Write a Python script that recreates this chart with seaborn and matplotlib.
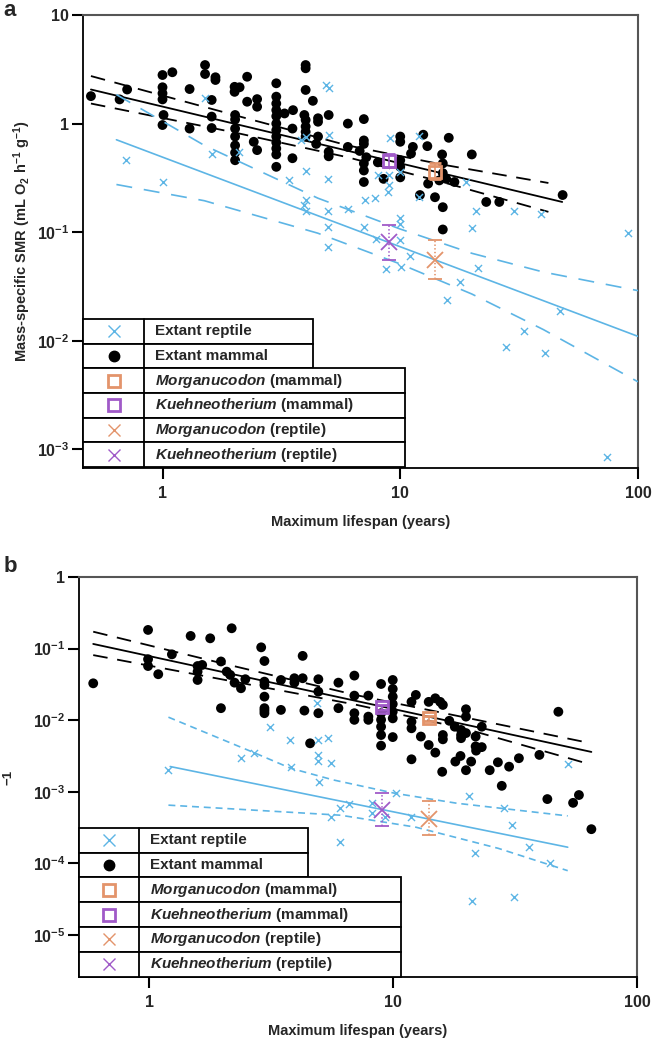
import numpy as np
import pandas as pd
import matplotlib
matplotlib.use("Agg")
import matplotlib.pyplot as plt
import seaborn as sns
from matplotlib.patches import Rectangle
from matplotlib.ticker import FixedLocator, FuncFormatter, NullLocator

sns.set_style("ticks")
plt.rcParams["font.family"] = ["Liberation Sans", "DejaVu Sans"]
plt.rcParams["font.weight"] = "bold"
plt.rcParams["mathtext.fontset"] = "custom"
plt.rcParams["mathtext.rm"] = "Liberation Sans:bold"
plt.rcParams["mathtext.bf"] = "Liberation Sans:bold"
plt.rcParams["mathtext.it"] = "Liberation Sans:italic:bold"
plt.rcParams["mathtext.default"] = "rm"
plt.rcParams["lines.scale_dashes"] = False

BLUE = "#5db5e5"
ORANGE = "#e3946b"
PURPLE = "#a05ac8"

# ---- panel a : mass-specific SMR vs maximum lifespan ----
a_mammals = [
    (0.50, 1.79), (0.66, 1.67), (0.71, 2.06), (1.0, 2.80), (1.0, 2.16), (1.0, 1.90), (1.0, 1.67),
    (1.10, 2.97), (1.01, 1.20), (1.0, 0.97), (1.30, 0.90), (1.30, 2.08), (1.51, 3.46), (1.51, 2.86),
    (1.67, 2.67), (1.67, 2.52), (1.61, 1.65), (1.61, 1.16), (1.61, 0.91), (2.01, 2.18), (2.11, 2.16),
    (2.01, 1.96), (2.27, 2.70), (2.27, 1.59), (2.02, 1.20), (2.02, 1.09), (2.02, 0.90), (2.02, 0.76),
    (2.02, 0.63), (2.02, 0.54), (2.02, 0.46), (2.50, 1.68), (2.50, 1.43), (2.42, 0.68), (2.50, 0.57),
    (3.01, 2.35), (3.01, 1.77), (3.01, 1.53), (3.01, 1.33), (3.01, 1.17), (3.01, 1.0), (3.01, 0.87),
    (3.01, 0.76), (3.01, 0.67), (3.01, 0.59), (3.01, 0.52), (3.01, 0.40), (3.26, 1.24), (3.54, 1.33),
    (3.52, 0.90), (3.52, 0.48), (4.0, 3.46), (4.0, 3.23), (4.0, 2.04), (4.0, 1.08), (4.0, 0.94),
    (4.0, 0.84), (4.0, 0.76), (3.95, 1.20), (4.29, 1.62), (4.51, 1.12), (4.51, 0.76), (4.43, 0.65),
    (4.51, 1.04), (5.0, 1.20), (5.0, 0.55), (5.0, 0.50), (6.02, 1.0), (7.03, 1.10), (7.03, 0.70),
    (7.03, 0.65), (6.02, 0.61), (6.75, 0.56), (7.20, 0.49), (7.03, 0.43), (7.03, 0.37), (7.03, 0.29),
    (8.05, 0.44), (8.51, 0.31), (10.0, 0.76), (10.0, 0.68), (10.0, 0.46), (10.0, 0.40), (10.0, 0.32),
    (11.3, 0.61), (11.1, 0.53), (12.5, 0.79), (13.0, 0.62), (16.0, 0.74), (15.0, 0.52), (15.1, 0.43),
    (15.1, 0.35), (14.6, 0.30), (15.6, 0.31), (16.9, 0.29), (13.1, 0.28), (12.1, 0.22), (14.0, 0.21),
    (15.1, 0.17), (20.0, 0.52), (23.0, 0.19), (26.1, 0.19), (15.1, 0.106), (48.2, 0.22),
]
a_reptiles = [
    (0.70, 0.46), (1.0, 0.29), (1.51, 1.71), (1.61, 0.52), (2.10, 0.55), (3.40, 0.30), (4.0, 0.76),
    (3.84, 0.70), (4.0, 0.37), (3.93, 0.177), (4.0, 0.20), (4.0, 0.157), (4.96, 0.31), (4.96, 0.157),
    (4.96, 0.112), (4.96, 0.073), (4.85, 2.26), (5.01, 2.11), (5.01, 0.78), (6.02, 0.162), (7.08, 0.197),
    (7.80, 0.207), (7.03, 0.112), (9.02, 0.73), (8.05, 0.335), (8.96, 0.335), (8.96, 0.271), (8.87, 0.236),
    (10.0, 0.36), (12.0, 0.77), (12.0, 0.21), (9.93, 0.134), (9.93, 0.12), (10.0, 0.084), (7.87, 0.0875),
    (11.0, 0.060), (18.9, 0.29), (20.9, 0.156), (20.1, 0.110), (30.0, 0.157), (39.1, 0.147), (90.4, 0.099),
    (8.74, 0.046), (10.05, 0.048), (17.9, 0.035), (21.3, 0.047), (15.8, 0.0236), (46.9, 0.0188),
    (33.2, 0.0123), (27.8, 0.0088), (40.6, 0.0077), (74.3, 0.00085),
]
# fossils: Morganucodon, Kuehneotherium
fossil_life = [14.0, 9.0]
fossil_colors = [ORANGE, PURPLE]
a_fossil_mam = [0.36, 0.454]
a_fossil_mam_lo = [0.306, 0.40]
a_fossil_mam_hi = [0.435, 0.53]
a_fossil_rep = [0.056, 0.0815]
a_fossil_rep_lo = [0.037, 0.056]
a_fossil_rep_hi = [0.084, 0.116]

a_mam_fit_x = [0.50, 48.0]
a_mam_fit_y = [2.06, 0.19]
a_mam_ci_x = [0.5, 2, 6, 15, 42]
a_mam_ci_hi = [2.74, 1.2, 0.63, 0.42, 0.284]
a_mam_ci_lo = [1.53, 0.83, 0.49, 0.29, 0.154]
a_rep_fit_x = [0.64, 100]
a_rep_fit_y = [0.71, 0.011]
a_rep_ci_x = [0.64, 1.5, 4.5, 10, 20, 40, 100]
a_rep_ci_hi = [1.85, 0.63, 0.206, 0.107, 0.064, 0.043, 0.029]
a_rep_ci_lo = [0.275, 0.195, 0.098, 0.051, 0.027, 0.0127, 0.0042]

# ---- panel b ----
b_mammals = [
    (0.59, 0.0327), (0.99, 0.182), (0.99, 0.071), (0.99, 0.057), (1.09, 0.0438), (1.24, 0.083),
    (1.48, 0.150), (1.78, 0.139), (1.58, 0.057), (1.58, 0.0476), (1.58, 0.0364), (1.65, 0.059),
    (2.18, 0.192), (1.97, 0.066), (2.08, 0.0476), (2.15, 0.0428), (2.24, 0.0334), (2.38, 0.0279),
    (2.48, 0.0373), (1.97, 0.0147), (2.88, 0.104), (2.97, 0.067), (2.97, 0.0345), (2.97, 0.0310),
    (2.97, 0.0213), (2.97, 0.0147), (2.97, 0.0136), (2.97, 0.0125), (3.47, 0.0364), (3.47, 0.0139),
    (3.94, 0.0385), (3.94, 0.0334), (4.26, 0.079), (4.26, 0.0385), (4.33, 0.0136), (4.94, 0.0373),
    (4.94, 0.025), (4.94, 0.0125), (4.57, 0.00475), (5.97, 0.0334), (5.97, 0.0147), (6.94, 0.0419),
    (6.94, 0.022), (6.94, 0.0125), (6.94, 0.0101), (7.92, 0.022), (7.92, 0.0112), (7.92, 0.0101),
    (8.93, 0.032), (8.93, 0.0125), (8.93, 0.0101), (8.93, 0.0081), (8.93, 0.0062), (8.93, 0.0044),
    (9.97, 0.0364), (9.97, 0.0273), (9.97, 0.0213), (9.97, 0.0168), (9.97, 0.0131), (9.97, 0.0106),
    (9.97, 0.0058), (11.9, 0.0095), (11.9, 0.0077), (12.4, 0.0225), (11.9, 0.018), (13.0, 0.0059),
    (14.0, 0.018), (14.9, 0.0202), (15.6, 0.018), (16.0, 0.0163), (14.0, 0.0045), (17.0, 0.0098),
    (17.9, 0.0081), (16.0, 0.0062), (16.0, 0.0054), (19.0, 0.0073), (19.0, 0.0062), (19.0, 0.0056),
    (19.9, 0.0142), (19.9, 0.0112), (19.9, 0.0066), (21.8, 0.0059), (21.8, 0.0043), (23.1, 0.0081),
    (23.1, 0.0042), (47.6, 0.0131), (11.9, 0.00284), (14.9, 0.00352), (18.0, 0.00264), (18.9, 0.00316),
    (20.9, 0.00264), (21.9, 0.00375), (15.9, 0.0019), (19.9, 0.0020), (24.9, 0.0020), (26.9, 0.00258),
    (29.9, 0.00224), (32.8, 0.00294), (39.8, 0.00327), (27.9, 0.00121), (42.9, 0.00079), (54.7, 0.00070),
    (57.8, 0.00090), (65.0, 0.0003),
]
b_reptiles = [
    (3.13, 0.0081), (3.78, 0.0053), (4.94, 0.0053), (5.43, 0.0056), (4.87, 0.0172), (1.20, 0.0020),
    (2.37, 0.0030), (2.68, 0.00345), (3.82, 0.0022), (4.93, 0.00327), (4.93, 0.00272), (5.59, 0.0025),
    (4.99, 0.00136), (5.55, 0.00045), (6.07, 0.00059), (6.62, 0.00067), (8.21, 0.00069), (8.21, 0.0005),
    (9.24, 0.00044), (10.3, 0.00097), (11.9, 0.00045), (6.07, 0.0002), (20.5, 0.00087), (28.5, 0.0006),
    (30.8, 0.00034), (36.1, 0.000168), (21.7, 0.000138), (43.9, 0.0001), (51.9, 0.00242),
    (21.0, 0.0000298), (31.2, 0.0000343),
]
b_fossil_mam = [0.0106, 0.0151]
b_fossil_mam_lo = [0.0097, 0.0139]
b_fossil_mam_hi = [0.0116, 0.0164]
b_fossil_rep = [0.00042, 0.00056]
b_fossil_rep_lo = [0.00025, 0.00033]
b_fossil_rep_hi = [0.00074, 0.00097]

b_mam_fit_x = [0.59, 65]
b_mam_fit_y = [0.116, 0.0036]
b_mam_ci_x = [0.59, 2, 7, 20, 62]
b_mam_ci_hi = [0.172, 0.062, 0.0225, 0.0108, 0.0049]
b_mam_ci_lo = [0.081, 0.037, 0.0165, 0.0075, 0.0025]
b_rep_fit_x = [1.22, 52]
b_rep_fit_y = [0.00225, 0.000168]
b_rep_ci_hi_x = [1.2, 2.7, 3.8, 5.7, 10.2, 18.3, 52]
b_rep_ci_hi = [0.011, 0.0035, 0.00213, 0.00146, 0.00095, 0.00069, 0.00046]
b_rep_ci_lo_x = [1.2, 6.1, 12.4, 27, 52]
b_rep_ci_lo = [0.00065, 0.00047, 0.00032, 0.000162, 0.000079]

legend_labels = ["Extant reptile", "Extant mammal",
                 r"$\mathit{Morganucodon}$ (mammal)", r"$\mathit{Kuehneotherium}$ (mammal)",
                 r"$\mathit{Morganucodon}$ (reptile)", r"$\mathit{Kuehneotherium}$ (reptile)"]


def log_fmt(v, pos):
    e = int(round(np.log10(v)))
    if e >= 0:
        return "%d" % (10 ** e)
    return r"$10^{%d}$" % e


def line(ax, x, y, color, dashes=None, lw=1.2):
    sns.lineplot(x=x, y=y, ax=ax, color=color, lw=lw, estimator=None, sort=False, zorder=4)
    if dashes is not None:
        ax.lines[-1].set_dashes(dashes)


def fossils(ax, y, lo, hi, marker):
    for xv, yv, l, h, c in zip(fossil_life, y, lo, hi, fossil_colors):
        if marker == "s":
            ax.errorbar([xv], [yv], yerr=[[yv - l], [h - yv]], fmt="s", mfc="none", mec=c, ms=9,
                        mew=2, ecolor=c, elinewidth=1.2, capsize=4, capthick=1.2, zorder=6)
        else:
            eb = ax.errorbar([xv], [yv], yerr=[[yv - l], [h - yv]], fmt="x", color=c, ms=11,
                             mew=1.3, ecolor=c, elinewidth=1.2, capsize=5, capthick=1.2, zorder=6)
            eb[2][0].set_linestyle(":")


def key_table(ax, xd, xr1, xr2, top, rh):
    for i, lab in enumerate(legend_labels):
        y0 = top - (i + 1) * rh
        w = xr1 if i < 2 else xr2
        ax.add_patch(Rectangle((0, y0), w, rh, transform=ax.transAxes, fc="white", ec="black",
                               lw=1.3, zorder=10, clip_on=False))
        ax.plot([xd, xd], [y0, y0 + rh], transform=ax.transAxes, color="black", lw=1.3,
                zorder=11, clip_on=False)
        xm, ym = xd / 2, y0 + rh / 2
        if i == 0:
            ax.plot(xm, ym, "x", color=BLUE, ms=8, mew=1, transform=ax.transAxes, zorder=12, clip_on=False)
        elif i == 1:
            ax.plot(xm, ym, "o", color="black", ms=7.5, transform=ax.transAxes, zorder=12, clip_on=False)
        elif i in (2, 3):
            ax.plot(xm, ym, "s", mfc="none", mec=fossil_colors[i - 2], ms=8.5, mew=2,
                    transform=ax.transAxes, zorder=12, clip_on=False)
        else:
            ax.plot(xm, ym, "x", color=fossil_colors[i - 4], ms=8.5, mew=1,
                    transform=ax.transAxes, zorder=12, clip_on=False)
        ax.text(xd + 0.02, ym, lab, transform=ax.transAxes, va="center", ha="left",
                fontsize=11, fontweight="bold", zorder=12)


def style_axes(ax, xlim, ylim, yticks):
    ax.set_xscale("log")
    ax.set_yscale("log")
    ax.set_xlim(*xlim)
    ax.set_ylim(*ylim)
    ax.xaxis.set_major_locator(FixedLocator([1, 10, 100]))
    ax.yaxis.set_major_locator(FixedLocator(yticks))
    ax.xaxis.set_major_formatter(FuncFormatter(log_fmt))
    ax.yaxis.set_major_formatter(FuncFormatter(log_fmt))
    ax.xaxis.set_minor_locator(NullLocator())
    ax.yaxis.set_minor_locator(NullLocator())
    ax.tick_params(axis="both", which="major", length=8, width=1.5, direction="out",
                   labelsize=11.5, color="black")
    ax.tick_params(axis="x", pad=5)
    ax.tick_params(axis="y", pad=2)
    for s in ["left", "bottom"]:
        ax.spines[s].set_color("black")
        ax.spines[s].set_linewidth(1.3)
    for s in ["top", "right"]:
        ax.spines[s].set_color("#555555")
        ax.spines[s].set_linewidth(1.5)
    ax.set_xlabel("Maximum lifespan (years)", fontsize=10.5, fontweight="bold", labelpad=10)


fig = plt.figure(figsize=(6.52, 10.39), dpi=100)
ax_a = fig.add_axes([0.1273, 0.5496, 0.8512, 0.4360])
ax_b = fig.add_axes([0.1212, 0.0597, 0.8558, 0.3850])

for ax, mams, reps in [(ax_a, a_mammals, a_reptiles), (ax_b, b_mammals, b_reptiles)]:
    dm = pd.DataFrame(mams, columns=["life", "rate"])
    dr = pd.DataFrame(reps, columns=["life", "rate"])
    sns.scatterplot(data=dm, x="life", y="rate", ax=ax, color="black", s=50,
                    edgecolor="none", zorder=3, legend=False)
    sns.scatterplot(data=dr, x="life", y="rate", ax=ax, color=BLUE, marker="x", s=26,
                    linewidth=1.0, zorder=5, legend=False)

# panel a lines
line(ax_a, a_mam_fit_x, a_mam_fit_y, "black", lw=1.3)
line(ax_a, a_mam_ci_x, a_mam_ci_hi, "black", (10.5, 7), lw=1.3)
line(ax_a, a_mam_ci_x, a_mam_ci_lo, "black", (10.5, 7), lw=1.3)
line(ax_a, a_rep_fit_x, a_rep_fit_y, BLUE)
line(ax_a, a_rep_ci_x, a_rep_ci_hi, BLUE, (11.5, 8.5))
line(ax_a, a_rep_ci_x, a_rep_ci_lo, BLUE, (11.5, 8.5))
fossils(ax_a, a_fossil_mam, a_fossil_mam_lo, a_fossil_mam_hi, "s")
fossils(ax_a, a_fossil_rep, a_fossil_rep_lo, a_fossil_rep_hi, "x")

# panel b lines
line(ax_b, b_mam_fit_x, b_mam_fit_y, "black", lw=1.3)
line(ax_b, b_mam_ci_x, b_mam_ci_hi, "black", (10.5, 7), lw=1.3)
line(ax_b, b_mam_ci_x, b_mam_ci_lo, "black", (10.5, 7), lw=1.3)
line(ax_b, b_rep_fit_x, b_rep_fit_y, BLUE)
line(ax_b, b_rep_ci_hi_x, b_rep_ci_hi, BLUE, (5, 3.5))
line(ax_b, b_rep_ci_lo_x, b_rep_ci_lo, BLUE, (5, 3.5))
fossils(ax_b, b_fossil_mam, b_fossil_mam_lo, b_fossil_mam_hi, "s")
fossils(ax_b, b_fossil_rep, b_fossil_rep_lo, b_fossil_rep_hi, "x")

style_axes(ax_a, (0.463, 100), (10 ** -3.17, 10), [1e-3, 1e-2, 1e-1, 1, 10])
style_axes(ax_b, (0.516, 100), (10 ** -5.587, 1), [1e-5, 1e-4, 1e-3, 1e-2, 1e-1, 1])
ax_a.set_ylabel(r"Mass-specific SMR (mL O$_2$ h$^{-1}$ g$^{-1}$)", fontsize=10.5,
                fontweight="bold", labelpad=3)
ax_b.set_ylabel("")
fig.text(8 / 652, 1 - 777 / 1039, "\u22121", rotation=90, fontsize=9.5, fontweight="bold",
         ha="center", va="center")

key_table(ax_a, 0.110, 0.414, 0.580, 0.329, 0.0545)
key_table(ax_b, 0.1075, 0.411, 0.577, 0.373, 0.062)

fig.text(10 / 652, 1 - 10 / 1039, "a", fontsize=16, fontweight="bold", ha="center", va="center")
fig.text(10 / 652, 1 - 566 / 1039, "b", fontsize=16, fontweight="bold", ha="center", va="center")

fig.savefig("out.png", dpi=100)
